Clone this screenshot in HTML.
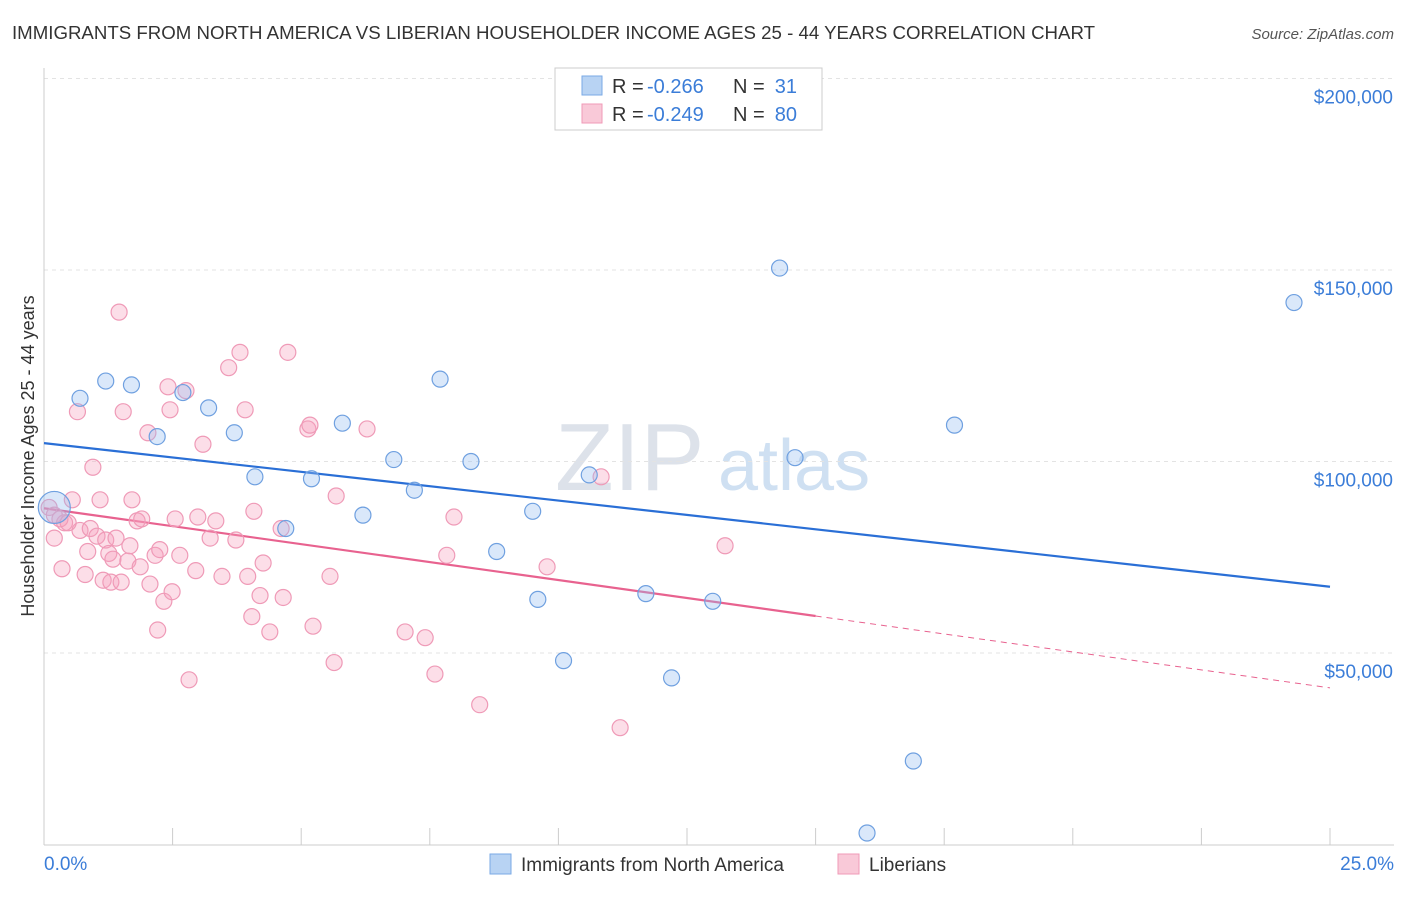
<!DOCTYPE html>
<html><head><meta charset="utf-8"><style>
body{margin:0;background:#fff;font-family:"Liberation Sans",sans-serif;}
svg text{font-family:"Liberation Sans",sans-serif;}
</style></head><body>
<svg id="chart" width="1406" height="892" xmlns="http://www.w3.org/2000/svg">
<text x="12" y="39" font-size="18" fill="#333" textLength="1083" lengthAdjust="spacingAndGlyphs">IMMIGRANTS FROM NORTH AMERICA VS LIBERIAN HOUSEHOLDER INCOME AGES 25 - 44 YEARS CORRELATION CHART</text>
<text x="1394" y="39" font-size="15" fill="#555" text-anchor="end" font-style="italic">Source: ZipAtlas.com</text>
<g>
<text x="555" y="490" font-size="96" fill="#dde2ea" font-family="Liberation Serif,serif">ZIP</text>
<text x="718" y="490" font-size="72" fill="#cfe0f2">atlas</text>
</g>
<g id="grid"></g>
<g id="axes"></g>
<text transform="translate(34,456) rotate(-90)" font-size="18" fill="#333" text-anchor="middle">Householder Income Ages 25 - 44 years</text>
<g id="trends"></g>
<g id="points"></g>
<g>
<rect x="555" y="68" width="267" height="62" fill="#fff" stroke="#ccc"/>
<rect x="582" y="76" width="20" height="19" fill="#b8d3f3" stroke="#7aaae6"/>
<rect x="582" y="104" width="20" height="19" fill="#f9c9d8" stroke="#f09ab7"/>
<text x="612" y="93" font-size="20" fill="#333">R =</text>
<text x="647" y="93" font-size="20" fill="#3b7dd8">-0.266</text>
<text x="733" y="93" font-size="20" fill="#333">N =</text>
<text x="797" y="93" font-size="20" fill="#3b7dd8" text-anchor="end">31</text>
<text x="612" y="121" font-size="20" fill="#333">R =</text>
<text x="647" y="121" font-size="20" fill="#3b7dd8">-0.249</text>
<text x="733" y="121" font-size="20" fill="#333">N =</text>
<text x="797" y="121" font-size="20" fill="#3b7dd8" text-anchor="end">80</text>
</g>
<g>
<rect x="490" y="854" width="21" height="20" fill="#b8d3f3" stroke="#7aaae6"/>
<text x="521" y="871" font-size="19" fill="#333">Immigrants from North America</text>
<rect x="838" y="854" width="21" height="20" fill="#f9c9d8" stroke="#f09ab7"/>
<text x="869" y="871" font-size="19" fill="#333">Liberians</text>
</g>
</svg>
<script>
const blueX=[0.2,0.7,1.2,1.7,2.2,2.7,3.2,3.7,4.1,4.7,5.2,5.8,6.2,6.8,7.2,7.7,8.3,8.8,9.5,9.6,10.1,10.6,11.7,12.2,13.0,14.3,14.6,16.9,17.7,16.0,24.3];
const blueY=[88000,116500,121000,120000,106500,118000,114000,107500,96000,82500,95500,110000,86000,100500,92500,121500,100000,76500,87000,64000,48000,96500,65500,43500,63500,150500,101000,21800,109500,3000,141500];
const pinkX=[0.1,0.2,0.2,0.35,0.4,0.55,0.65,0.7,0.8,0.85,0.9,0.95,1.03,1.09,1.15,1.2,1.26,1.3,1.34,1.4,1.46,1.5,1.54,1.63,1.71,1.81,1.87,1.9,2.02,2.06,2.16,2.21,2.25,2.33,2.41,2.45,2.49,2.64,2.76,2.82,2.95,2.99,3.09,3.23,3.34,3.59,3.73,3.81,3.91,3.96,4.04,4.08,4.2,4.26,4.39,4.61,4.65,4.74,5.13,5.17,5.23,5.56,5.64,5.68,6.28,7.02,7.41,7.6,7.83,7.97,8.47,9.78,10.83,11.2,13.24,0.31,0.47,1.67,3.46,2.55];
const pinkY=[88000,86000,80000,72000,84000,90000,113000,82000,70500,76500,82500,98500,80500,90000,69000,79500,76000,68500,74500,80000,139000,68500,113000,74000,90000,84500,72500,85000,107500,68000,75500,56000,77000,63500,119500,113500,66000,75500,118500,43000,71500,85500,104500,80000,84500,124500,79500,128500,113500,70000,59500,87000,65000,73500,55500,82500,64500,128500,108500,109500,57000,70000,47500,91000,108500,55500,54000,44500,75500,85500,36500,72500,96000,30500,78000,85000,84000,78000,70000,85000];
const blueTrend=[104800,67300];
const pinkTrend=[87800,40900];
const xTicks=["0.0%","25.0%"];
const yTicks=[50000,100000,150000,200000];
const X0=44,X1=1330,Y0=844.5,PPY=191.5/50000;
const xs=v=>X0+(v/25)*(X1-X0);
const ys=v=>Y0-v*PPY;
const NS="http://www.w3.org/2000/svg";
function mk(t,a,p){const e=document.createElementNS(NS,t);for(const k in a)e.setAttribute(k,a[k]);p.appendChild(e);return e;}
const grid=document.getElementById('grid'),axes=document.getElementById('axes');
yTicks.forEach(v=>{
 const l=mk('line',{x1:X0,x2:1394,y1:ys(v),y2:ys(v),stroke:'#e3e3e3','stroke-dasharray':'4,4'},grid);
 
 
 const t=mk('text',{x:1393,y:ys(v)+25,'font-size':19,fill:'#3b7dd8','text-anchor':'end'},axes);
 t.textContent='$'+v.toLocaleString('en-US');
 
 
});
mk('line',{x1:X0,x2:X0,y1:68,y2:845,stroke:'#ccc'},axes);
mk('line',{x1:X0,x2:1394,y1:845,y2:845,stroke:'#ccc'},axes);
for(let i=0;i<=10;i++){const x=xs(i*2.5);mk('line',{x1:x,x2:x,y1:828,y2:845,stroke:'#ccc'},axes);}
const t0=mk('text',{x:44,y:870,'font-size':19,fill:'#3b7dd8'},axes);t0.textContent=xTicks[0];


const t1=mk('text',{x:1394,y:870,'font-size':19,fill:'#3b7dd8','text-anchor':'end'},axes);t1.textContent=xTicks[1];


const pts=document.getElementById('points');
pinkX.forEach((x,i)=>{const c=mk('circle',{cx:xs(x),cy:ys(pinkY[i]),r:8,fill:'rgba(245,160,190,0.35)',stroke:'#ef9ab7','stroke-width':1.2},pts);
 
 });
blueX.forEach((x,i)=>{const c=mk('circle',{cx:xs(x),cy:ys(blueY[i]),r:i==0?16:8,fill:'rgba(150,190,240,0.35)',stroke:'#6fa0e0','stroke-width':1.2},pts);
 
 });
const tr=document.getElementById('trends');
const bl=mk('line',{x1:xs(0),y1:ys(blueTrend[0]),x2:xs(25),y2:ys(blueTrend[1]),stroke:'#2a6fd6','stroke-width':2.2},tr);


const pm=pinkTrend[0]+(pinkTrend[1]-pinkTrend[0])*(15/25);
const pl=mk('line',{x1:xs(0),y1:ys(pinkTrend[0]),x2:xs(15),y2:ys(pm),stroke:'#e8628f','stroke-width':2.2},tr);


const pd=mk('line',{x1:xs(15),y1:ys(pm),x2:xs(25),y2:ys(pinkTrend[1]),stroke:'#e8628f','stroke-width':1,'stroke-dasharray':'6,5'},tr);


</script>
</body></html>
